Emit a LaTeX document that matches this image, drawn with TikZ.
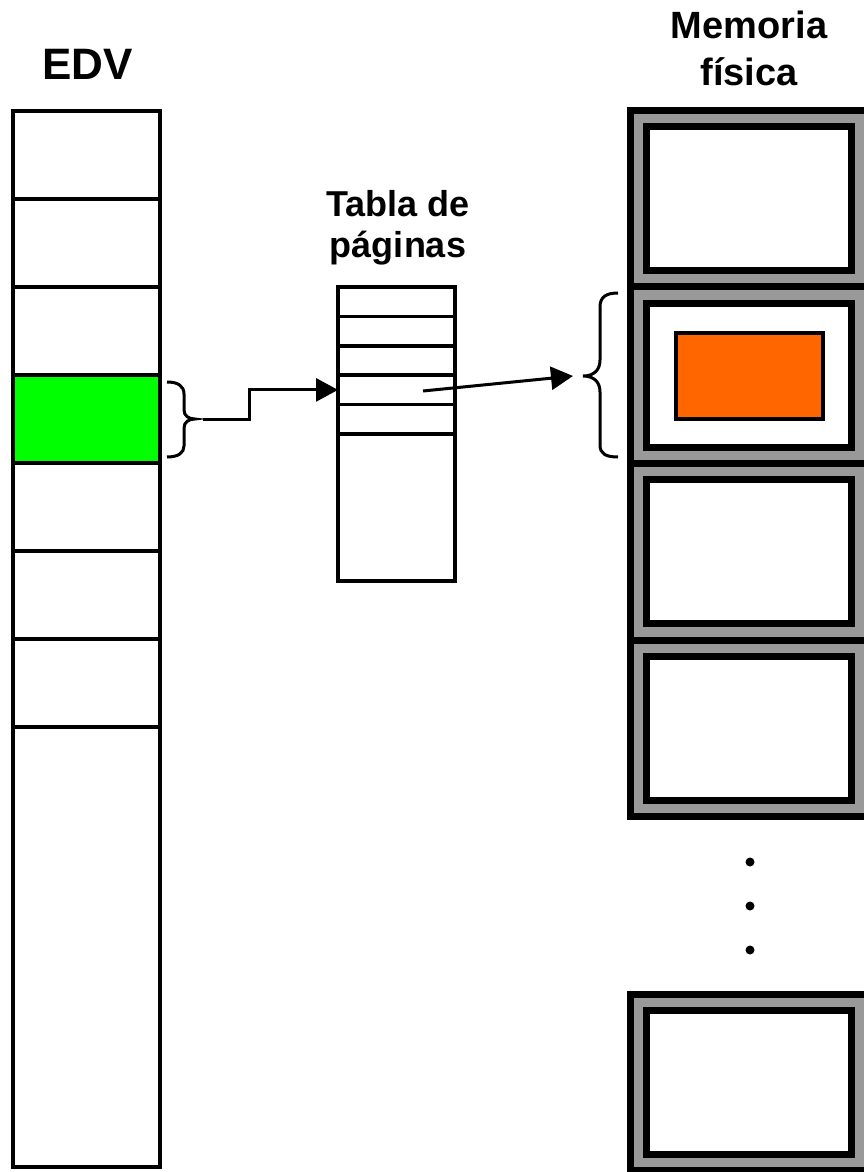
\documentclass[tikz,border=0pt]{standalone}
\usepackage{fontspec}
\setmainfont{Liberation Sans}
\usetikzlibrary{arrows.meta}
\definecolor{framegray}{HTML}{999999}
\definecolor{pagegreen}{HTML}{00FF00}
\definecolor{pageorange}{HTML}{FF6600}
\begin{document}
\begin{tikzpicture}[x=1pt,y=-1pt,
  edvcell/.style={draw, line width=4pt, minimum width=147pt, inner sep=0pt, outer sep=0pt},
  ptcell/.style={draw, line width=3.5pt, minimum width=117pt, inner sep=0pt, outer sep=0pt},
  frameouter/.style={draw, line width=7pt, fill=framegray, minimum width=238pt, minimum height=176.75pt, inner sep=0pt, outer sep=0pt},
  frameinner/.style={draw, line width=7pt, fill=white, minimum width=205pt, minimum height=144pt, inner sep=0pt, outer sep=0pt},
  link/.style={line width=3pt, -{Triangle[length=22pt,width=23pt]}},
  bracestyle/.style={line width=3pt},
  titlebig/.style={anchor=base, inner sep=0pt, font=\fontsize{44}{50}\selectfont\bfseries},
  titlemid/.style={anchor=base, inner sep=0pt, font=\fontsize{38}{44}\selectfont\bfseries},
  titlesmall/.style={anchor=base, inner sep=0pt, font=\fontsize{36}{42}\selectfont\bfseries},
  dot/.style={fill=black}
]
\useasboundingbox (0,0) rectangle (864,1172);
\clip (0,0) rectangle (864,1172);

% titles
\node[titlebig] (edvt) at (87.5,79) {EDV};
\node[titlemid] (mem1) at (749,39) {Memoria};
\node[titlemid] (mem2) at (749,85) {física};
\node[titlesmall] (tab1) at (398,216) {Tabla de};
\node[titlesmall] (tab2) at (398,257) {páginas};

% EDV column
\foreach \i in {1,...,7} {
  \node[edvcell, minimum height=88pt] (edv\i) at (86.5,{111+88*(\i-1)+44}) {};
}
\node[edvcell, fill=pagegreen, minimum height=88pt] (edv4) at (86.5,{111+88*3+44}) {};
\node[edvcell, minimum height=440pt] (edv8) at (86.5,947) {};

% page table
\foreach \i in {1,...,5} {
  \node[ptcell, minimum height=29.4pt] (pt\i) at (396.5,{287+29.4*(\i-1)+14.7}) {};
}
\node[ptcell, minimum height=147pt] (pt6) at (396.5,507.5) {};

% physical memory frames
\foreach \k/\c in {1/198.4,2/375.1,3/551.9,4/728.6,5/1082.4} {
  \node[frameouter] (fo\k) at (749,\c) {};
  \node[frameinner] (fi\k) at (749,\c) {};
}
\node[draw, line width=4pt, fill=pageorange, minimum width=147pt, minimum height=86pt, inner sep=0pt] (page) at (749.5,376) {};

% dots
\fill[dot] (750,862) circle (4.5pt);
\fill[dot] (750,906) circle (4.5pt);
\fill[dot] (750,950) circle (4.5pt);

% braces
\draw[bracestyle] (167,382) .. controls (178,382) and (184,386) .. (184,394) -- (184,410)
  .. controls (184,416) and (189,419) .. (195,419)
  .. controls (189,419) and (184,422) .. (184,428) -- (184,446)
  .. controls (184,453) and (178,457) .. (167,457);
\draw[bracestyle] (618,293) .. controls (606,293) and (600,297) .. (600,307) -- (600,360)
  .. controls (600,370) and (594,376) .. (583,376)
  .. controls (594,376) and (600,382) .. (600,392) -- (600,445)
  .. controls (600,454) and (606,457) .. (618,457);

% connectors
\coordinate (b1) at (203,419);
\coordinate (ptsrc) at (423,391);
\coordinate (b2) at (573,376);
\draw[link] (b1) -- ++(46,0) |- (pt4.west);
\draw[link] (ptsrc) -- (b2);
\end{tikzpicture}
\end{document}
